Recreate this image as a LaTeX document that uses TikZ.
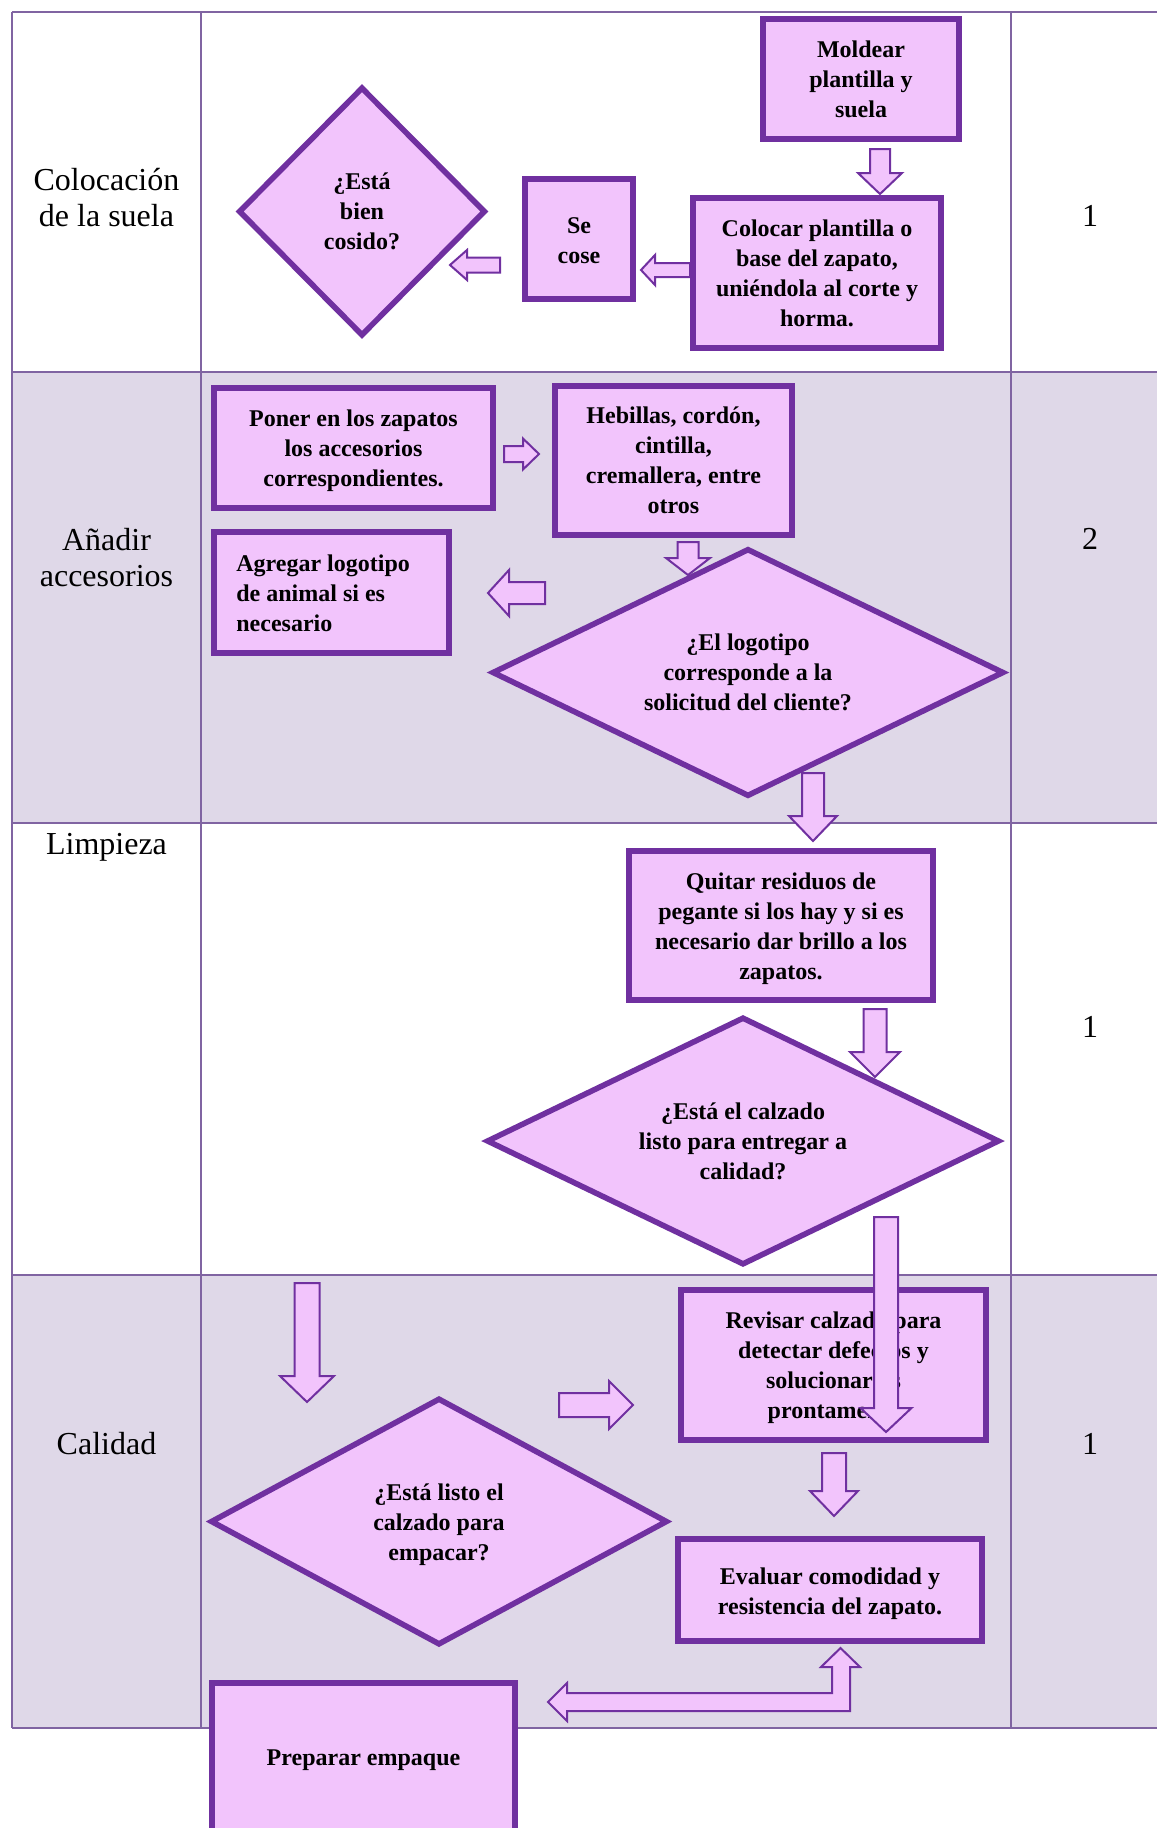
\documentclass[tikz,border=0pt]{standalone}
\usepackage{fontspec}
\setmainfont{Liberation Serif}
\usetikzlibrary{shapes.geometric}

\definecolor{tablerule}{HTML}{8064A2}
\definecolor{bandfill}{HTML}{DFD8E8}
\definecolor{shapefill}{HTML}{F2C4FC}
\definecolor{shapeline}{HTML}{7030A0}

\tikzset{
  stepbox/.style={draw=shapeline, fill=shapefill, line width=3pt, inner sep=0pt,
    align=center, font=\fontsize{12}{15}\selectfont\bfseries},
  steptext/.style={inner sep=0pt, align=left, font=\fontsize{12}{15}\selectfont\bfseries},
  decision/.style={diamond, draw=shapeline, fill=shapefill, line width=2.8pt, inner sep=0pt,
    align=center, font=\fontsize{12}{15}\selectfont\bfseries},
  lanelabel/.style={inner sep=0pt, align=center, font=\fontsize{16}{18}\selectfont},
  blockarrow/.style={draw=shapeline, fill=shapefill, line width=1pt, line join=miter},
  rule/.style={draw=tablerule, line width=1pt},
}

% block arrow: tail centre, direction (deg), length, shaft half width, head half width, head length
\newcommand\flowarrow[6]{%
  \draw[blockarrow, shift={(#1)}, rotate=#2]
    (0,-#4) -- ({#3-#6},-#4) -- ({#3-#6},-#5) -- (#3,0) -- ({#3-#6},#5) -- ({#3-#6},#4) -- (0,#4) -- cycle;}

\begin{document}
\begin{tikzpicture}[x=0.5pt, y=-0.5pt]
  \useasboundingbox (0,0) rectangle (1157,1828);
  \clip (0,0) rectangle (1157,1828);
  \fill[white] (0,0) rectangle (1157,1828);

  % swimlane table
  \fill[bandfill] (12,372) rectangle (1157,823);
  \fill[bandfill] (12,1275) rectangle (1157,1728);
  \foreach \y in {12,372,823,1275,1728} \draw[rule] (12,\y) -- (1157,\y);
  \foreach \x in {12,201,1011} \draw[rule] (\x,12) -- (\x,1728);

  % lane names and counts
  \node[lanelabel] (lane1) at (106.5,198) {Colocación\\de la suela};
  \node[lanelabel] (lane2) at (106.5,557.5) {Añadir\\accesorios};
  \node[lanelabel] (lane3) at (106.5,847) {Limpieza};
  \node[lanelabel] (lane4) at (106.5,1444) {Calidad};
  \node[lanelabel] (count1) at (1090,216) {1};
  \node[lanelabel] (count2) at (1090,539) {2};
  \node[lanelabel] (count3) at (1090,1027) {1};
  \node[lanelabel] (count4) at (1090,1444) {1};

  % lane 1
  \node[stepbox, minimum width=98pt, minimum height=60pt] (moldear) at (861,79) {Moldear\\plantilla y\\suela};
  \node[stepbox, minimum width=54pt, minimum height=60pt] (cose) at (579,239) {};
  \node[steptext, align=center] (cosetxt) at (579,240.5) {Se\\cose};
  \node[stepbox, minimum width=124pt, minimum height=75pt] (colocar) at (817,273) {Colocar plantilla o\\base del zapato,\\uniéndola al corte y\\horma.};
  \node[decision, aspect=0.99, minimum width=123.5pt, minimum height=124.5pt] (cosido) at (362,211.5) {¿Está\\bien\\cosido?};

  % lane 2
  \node[stepbox, minimum width=139.5pt, minimum height=60pt] (poner) at (353.5,448) {};
  \node[steptext, align=center] (ponertxt) at (353.5,451) {Poner en los zapatos\\los accesorios\\correspondientes.};
  \node[stepbox, minimum width=118.5pt, minimum height=74.5pt] (hebillas) at (673.5,460.5) {Hebillas, cordón,\\cintilla,\\cremallera, entre\\otros};
  \node[stepbox, minimum width=117.5pt, minimum height=60.5pt] (agregar) at (331.5,592.5) {};
  \node[steptext, anchor=west] (agregartxt) at (236,593) {Agregar logotipo\\de animal si es\\necesario};
  \node[decision, aspect=2.07, minimum width=256pt, minimum height=124pt] (logotipo) at (748,672.5) {¿El logotipo\\corresponde a la\\solicitud del cliente?};

  % lane 3
  \node[stepbox, minimum width=152pt, minimum height=74.5pt] (quitar) at (781,925.5) {};
  \node[steptext, align=center] (quitartxt) at (781,929) {Quitar residuos de\\pegante si los hay y si es\\necesario dar brillo a los\\zapatos.};
  \node[decision, aspect=2.09, minimum width=256.5pt, minimum height=124pt] (entregar) at (743,1141) {¿Está el calzado\\listo para entregar a\\calidad?};

  % lane 4
  \node[stepbox, minimum width=152.5pt, minimum height=75pt] (revisar) at (833.5,1365) {};
  \node[steptext, align=center] (revisartxt) at (833.5,1368) {Revisar calzado para\\detectar defectos y\\solucionarlos\\prontamente};
  \node[stepbox, minimum width=152pt, minimum height=51pt] (evaluar) at (830,1590) {};
  \node[steptext, align=center] (evaluartxt) at (830,1593.5) {Evaluar comodidad y\\resistencia del zapato.};
  \node[decision, aspect=1.85, minimum width=228.5pt, minimum height=123.5pt] (empacar) at (439,1521.5) {};
  \node[steptext, align=center] (empacartxt) at (439,1525) {¿Está listo el\\calzado para\\empacar?};
  \node[stepbox, minimum width=151.5pt, minimum height=75pt] (preparar) at (363.5,1758) {};
  \node[steptext, align=center] (preparartxt) at (363.5,1760) {Preparar empaque};

  % block arrows
  \flowarrow{880,149}{270}{45}{10}{22}{21}
  \flowarrow{690,270}{180}{49}{7}{15}{14}
  \flowarrow{500,265}{180}{50}{7.5}{15}{17}
  \flowarrow{504,454}{0}{35}{8}{15.5}{16}
  \flowarrow{688,542}{270}{33}{10.5}{22}{17}
  \flowarrow{545,593}{180}{57}{11}{23}{21}
  \flowarrow{813,773}{270}{68}{11}{24}{25}
  \flowarrow{875,1009}{270}{68}{11.5}{25}{25}
  \flowarrow{886,1217}{270}{215}{12}{25.5}{24}
  \flowarrow{307,1283}{270}{119}{12.5}{27}{26}
  \flowarrow{559,1405}{0}{74}{12}{24}{24}
  \flowarrow{834,1453}{270}{63}{12}{24}{25}
  % bent two-headed arrow between evaluation and packing
  \draw[blockarrow] (548,1702) -- (567,1683) -- (567,1693) -- (832,1693) -- (832,1667)
    -- (821,1667) -- (840.5,1648) -- (860,1667) -- (850,1667) -- (850,1711)
    -- (567,1711) -- (567,1721) -- cycle;
\end{tikzpicture}
\end{document}
